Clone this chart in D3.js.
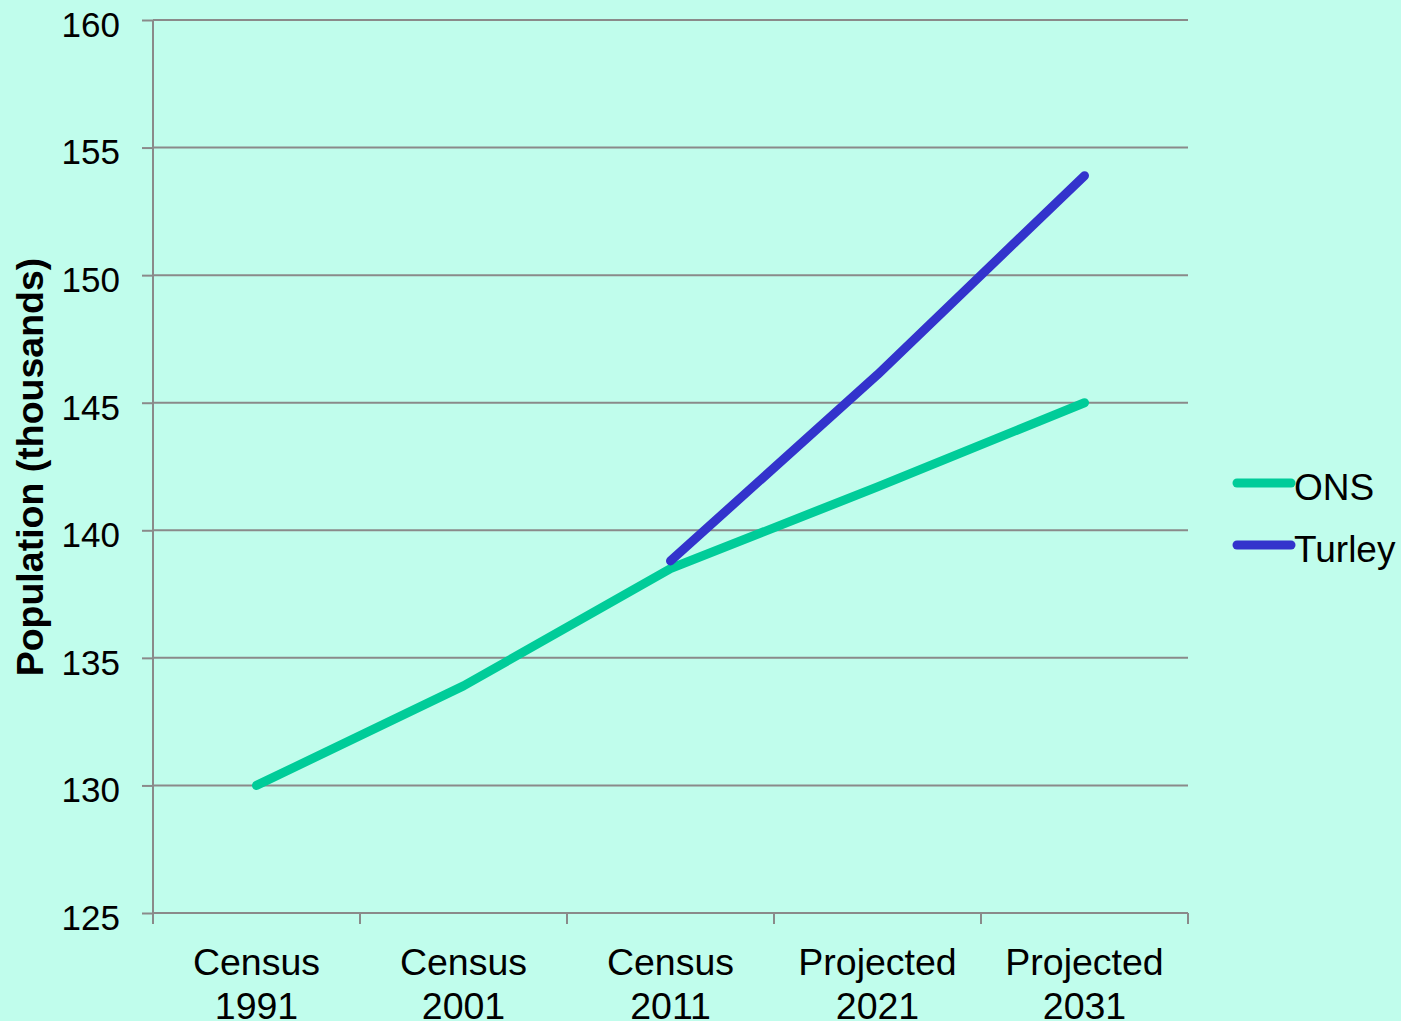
<!DOCTYPE html>
<html>
<head>
<meta charset="utf-8">
<script src="https://cdn.jsdelivr.net/npm/d3@7"></script>
<style>
  html, body { margin: 0; padding: 0; background: #c0fdec; }
  svg { display: block; font-family: "Liberation Sans", Arial, sans-serif; }
</style>
</head>
<body>
<script>
// Population projections (thousands)
const categories = [["Census", "1991"], ["Census", "2001"], ["Census", "2011"], ["Projected", "2021"], ["Projected", "2031"]];
const onsValues = [130.0, 133.9, 138.5, 141.7, 145.0];
const turleyValues = [null, null, 138.8, 146.1, 153.9];
const yTicks = [125, 130, 135, 140, 145, 150, 155, 160];
const seriesNames = ["ONS", "Turley"];
const seriesColors = ["#00cc99", "#3333cc"];

(function () {
const W = 1401, H = 1021;
const plotLeft = 153, plotRight = 1188, plotTop = 20, plotBottom = 913;

const svg = d3.select("body").append("svg").attr("width", W).attr("height", H);
svg.append("rect").attr("width", W).attr("height", H).attr("fill", "#c0fdec");

const keys = categories.map(c => c.join(" "));
const xBand = d3.scaleBand().domain(keys).range([plotLeft, plotRight]).padding(0);
const x = d3.scalePoint().domain(keys).range([plotLeft, plotRight]).padding(0.5);
const y = d3.scaleLinear().domain([125, 160]).range([plotBottom, plotTop]);

const gridColor = "#8a8a8a";

// left ticks and value labels
const yAxis = d3.axisLeft(y).tickValues(yTicks).tickSize(11).tickPadding(22).tickFormat(d3.format("d"));
const gy = svg.append("g").attr("transform", `translate(${plotLeft},0)`).call(yAxis);
gy.select(".domain").remove();
gy.selectAll(".tick line").attr("stroke", gridColor).attr("stroke-width", 2);
gy.selectAll(".tick text").attr("font-size", 35).attr("fill", "#000")
  .attr("font-family", "Liberation Sans, Arial, sans-serif")
  .attr("dy", "0.38em").attr("transform", "translate(0,3)");

// horizontal gridlines
svg.append("g").selectAll("line").data(yTicks.filter(t => t !== 125)).join("line")
  .attr("x1", plotLeft).attr("x2", plotRight)
  .attr("y1", d => y(d)).attr("y2", d => y(d))
  .attr("stroke", gridColor).attr("stroke-width", 2);

// vertical axis line
svg.append("line").attr("x1", plotLeft).attr("x2", plotLeft).attr("y1", plotTop).attr("y2", plotBottom + 11)
  .attr("stroke", gridColor).attr("stroke-width", 2);

// category axis with ticks at band boundaries
svg.append("line").attr("x1", plotLeft).attr("x2", plotRight).attr("y1", plotBottom).attr("y2", plotBottom)
  .attr("stroke", gridColor).attr("stroke-width", 2);
const boundaries = keys.map(k => xBand(k)).concat([plotRight]);
svg.append("g").selectAll("line").data(boundaries).join("line")
  .attr("x1", d => d).attr("x2", d => d).attr("y1", plotBottom).attr("y2", plotBottom + 11)
  .attr("stroke", gridColor).attr("stroke-width", 2);

const labels = svg.append("g").selectAll("text").data(categories).join("text")
  .attr("x", (d, i) => x(keys[i])).attr("y", 975)
  .attr("text-anchor", "middle").attr("font-size", 37.5).attr("fill", "#000");
labels.append("tspan").attr("x", (d, i) => x(keys[i])).text(d => d[0]);
labels.append("tspan").attr("x", (d, i) => x(keys[i])).attr("dy", 44).text(d => d[1]);

// y-axis title
svg.append("text")
  .attr("transform", "translate(43,467) rotate(-90)")
  .attr("text-anchor", "middle").attr("font-size", 37.5).attr("font-weight", "bold").attr("fill", "#000")
  .text("Population (thousands)");

// series lines
const line = d3.line()
  .defined(d => d.v !== null)
  .x(d => x(d.k)).y(d => y(d.v));

[onsValues, turleyValues].forEach((vals, i) => {
  const pts = vals.map((v, j) => ({ k: keys[j], v }));
  svg.append("path").datum(pts)
    .attr("d", line)
    .attr("fill", "none").attr("stroke", seriesColors[i]).attr("stroke-width", 9)
    .attr("stroke-linecap", "round").attr("stroke-linejoin", "round");
});

// legend
const legend = svg.append("g").selectAll("g").data(seriesNames).join("g")
  .attr("transform", (d, i) => `translate(1237,${483 + i * 62})`);
legend.append("line").attr("x1", 0).attr("x2", 54).attr("y1", 0).attr("y2", 0)
  .attr("stroke", (d, i) => seriesColors[i]).attr("stroke-width", 9).attr("stroke-linecap", "round");
legend.append("text").attr("x", 57).attr("y", 17)
  .attr("font-size", 37).attr("fill", "#000").text(d => d);
})();
</script>
</body>
</html>
